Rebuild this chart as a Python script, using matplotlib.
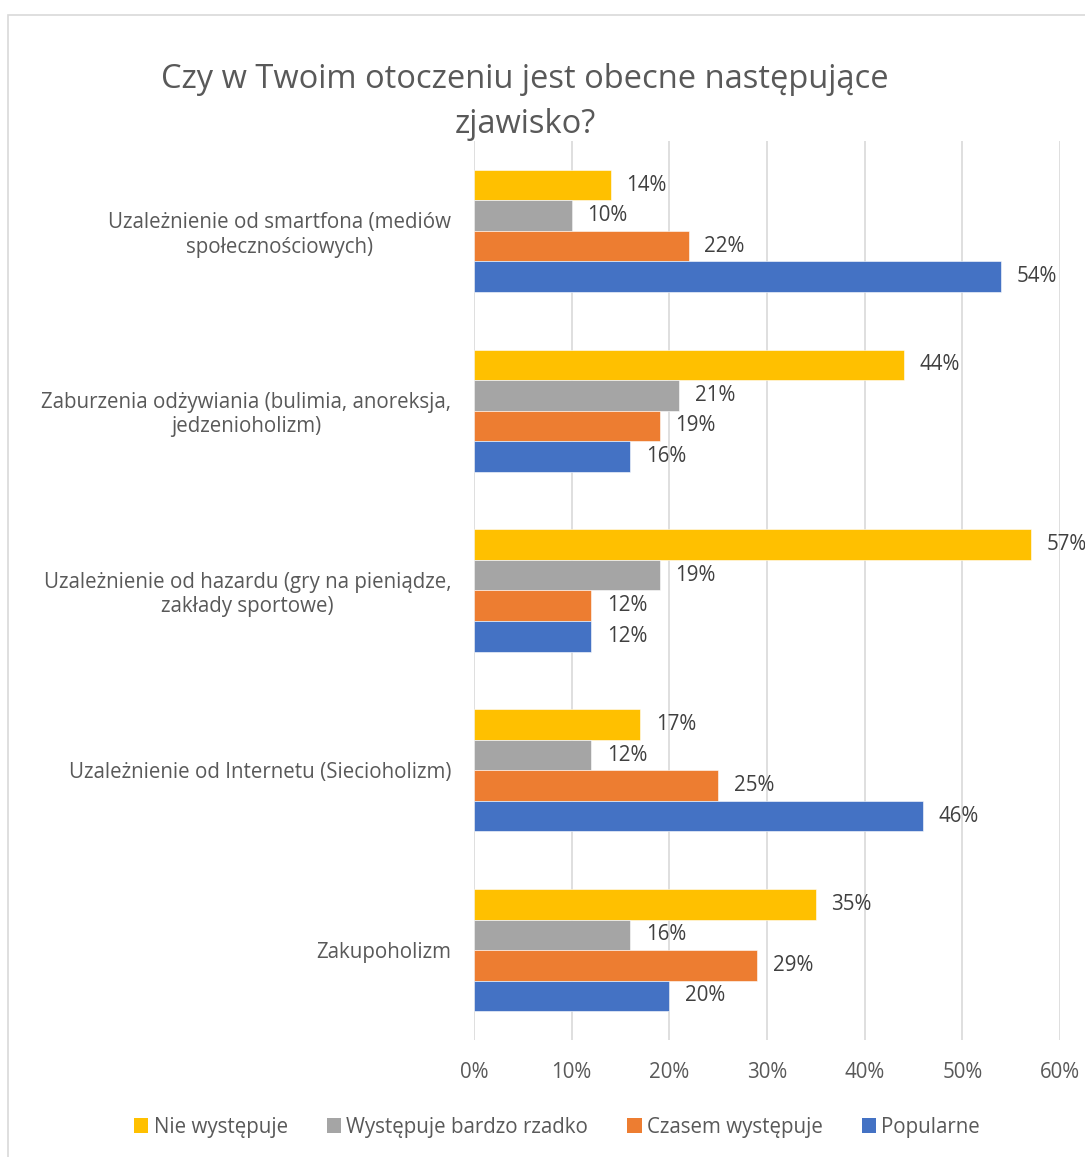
import numpy as np
import matplotlib
matplotlib.use('Agg')
import matplotlib.pyplot as plt
from matplotlib.patches import Rectangle, Patch

plt.rcParams['font.family'] = ['Open Sans', 'DejaVu Sans']

# Data
categories = [
    "Uzależnienie od smartfona (mediów\nspołecznościowych)",
    "Zaburzenia odżywiania (bulimia, anoreksja,\njedzenioholizm)",
    "Uzależnienie od hazardu (gry na pieniądze,\nzakłady sportowe)",
    "Uzależnienie od Internetu (Siecioholizm)",
    "Zakupoholizm",
]
series_names = ["Nie występuje", "Występuje bardzo rzadko", "Czasem występuje", "Popularne"]
nie_wystepuje = [0.14, 0.44, 0.57, 0.17, 0.35]
bardzo_rzadko = [0.10, 0.21, 0.19, 0.12, 0.16]
czasem = [0.22, 0.19, 0.12, 0.25, 0.29]
popularne = [0.54, 0.16, 0.12, 0.46, 0.20]
colors = ["#FFC000", "#A5A5A5", "#ED7D31", "#4472C4"]
x_ticks = [0, 0.1, 0.2, 0.3, 0.4, 0.5, 0.6]

text_color = "#595959"
label_color = "#404040"
grid_color = "#D9D9D9"
fs = 14.8

fig = plt.figure(figsize=(10.85, 11.57), dpi=100)
ax = fig.add_axes([474 / 1085, 1 - 1040 / 1157, (1060 - 474) / 1085, 899 / 1157])

# Chart border (cropped by the image edges)
fig.patches.append(Rectangle((8 / 1085, -0.1), 1.2, 1.1 - 15 / 1157,
                             transform=fig.transFigure, fill=False,
                             edgecolor=grid_color, linewidth=1.2))

all_series = [nie_wystepuje, bardzo_rzadko, czasem, popularne]
n_cat = len(categories)
centers = np.arange(n_cat)[::-1]
h = 0.17
offsets = [1.5 * h, 0.5 * h, -0.5 * h, -1.5 * h]

for vals, col, off, name in zip(all_series, colors, offsets, series_names):
    ypos = centers + off
    ax.barh(ypos, vals, height=h, color=col, edgecolor='white', linewidth=0.4,
            label=name, zorder=3)
    for y, v in zip(ypos, vals):
        ax.text(v + 0.016, y, f"{round(v * 100)}%", va='center', ha='left',
                fontsize=fs, color=label_color, clip_on=False)

ax.set_xlim(0, 0.6)
ax.set_ylim(-0.5, n_cat - 0.5)
ax.set_xticks(x_ticks)
ax.set_xticklabels([f"{round(t * 100)}%" for t in x_ticks])
ax.set_yticks(centers)
ax.set_yticklabels(categories)
for lab in ax.get_yticklabels():
    lab.set_multialignment('center')

ax.tick_params(axis='both', length=0, labelsize=fs, colors=text_color)
ax.tick_params(axis='x', pad=16)
ax.tick_params(axis='y', pad=16.5)
ax.grid(axis='x', color=grid_color, linewidth=1.2, zorder=0)
for s in ax.spines.values():
    s.set_visible(False)

fig.text(525 / 1085, 1 - 102 / 1157, "Czy w Twoim otoczeniu jest obecne następujące\nzjawisko?",
         ha='center', va='center', fontsize=23.5, color=text_color, linespacing=1.45)

handles = [Patch(facecolor=c, label=n) for c, n in zip(colors, series_names)]
fig.legend(handles=handles, loc='center', bbox_to_anchor=(557 / 1085, 1 - 1127 / 1157),
           ncol=4, frameon=False, fontsize=fs, handlelength=0.7, handleheight=0.7,
           handletextpad=0.25, columnspacing=1.9, labelcolor=text_color)

fig.savefig("out.png", dpi=100)
